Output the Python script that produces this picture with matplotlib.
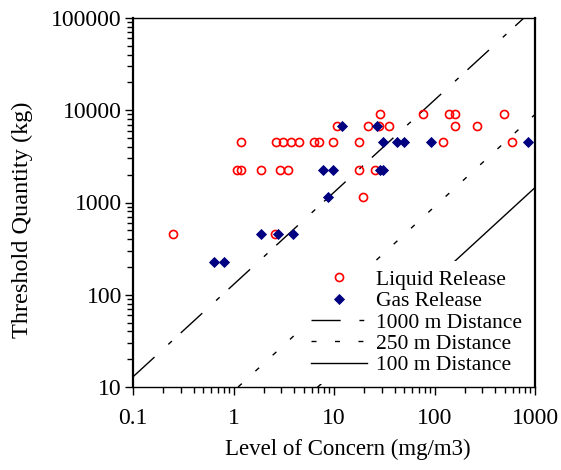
import numpy as np
import matplotlib
matplotlib.use("Agg")
import matplotlib.pyplot as plt
from matplotlib.lines import Line2D
from matplotlib.ticker import LogLocator, FuncFormatter, NullFormatter

plt.rcParams['font.family'] = ['Liberation Serif', 'DejaVu Serif']
plt.rcParams['lines.scale_dashes'] = False

# liquid release: level of concern (mg/m3) vs threshold quantity (kg)
liquid_loc = [0.25, 2.6,
              1.08, 1.19, 1.88, 2.90, 3.46, 17.9, 25.6,
              1.19, 2.63, 3.13, 3.73, 4.49, 6.32, 7.04, 9.84, 17.9, 121, 594,
              19.6,
              10.6, 21.6, 28.0, 35.5, 160, 263,
              28.7, 76.3, 140, 160, 492]
liquid_tq = [454, 454,
             2268, 2268, 2268, 2268, 2268, 2268, 2268,
             4536, 4536, 4536, 4536, 4536, 4536, 4536, 4536, 4536, 4536, 4536,
             1134,
             6804, 6804, 6804, 6804, 6804, 6804,
             9072, 9072, 9072, 9072, 9072]

# gas release
gas_loc = [0.644, 0.81,
           1.88, 2.75, 3.88,
           8.78,
           7.83, 9.84, 28.7, 30.5,
           30.5, 42.1, 50.1, 92.3, 846,
           11.9, 26.6]
gas_tq = [227, 227,
          454, 454, 454,
          1134,
          2268, 2268, 2268, 2268,
          4536, 4536, 4536, 4536, 4536,
          6804, 6804]

# distance lines: threshold = ratio * level of concern
dist_labels = ["1000 m Distance", "250 m Distance", "100 m Distance"]
dist_ratio = [129, 9.0, 1.45]

x_ticks = [0.1, 1, 10, 100, 1000]
y_ticks = [10, 100, 1000, 10000, 100000]

fig = plt.figure(figsize=(5.61, 4.70), dpi=100)
ax = fig.add_axes([133 / 561, 1 - 387 / 470, 402 / 561, 369 / 470])
ax.set_xscale('log')
ax.set_yscale('log')
ax.set_xlim(x_ticks[0], x_ticks[-1])
ax.set_ylim(y_ticks[0], y_ticks[-1])

styles = [dict(color='black', lw=1.0, dashes=(21, 13.5, 3.5, 8.7)),
          dict(color='black', lw=1.0, dashes=(3.6, 13.3)),
          dict(color='black', lw=1.0, linestyle='-')]

for ratio, st in zip(dist_ratio, styles):
    x0 = max(x_ticks[0], y_ticks[0] / ratio)
    xs = np.array([x0, x_ticks[-1]])
    ax.plot(xs, ratio * xs, zorder=1, **st)

ax.plot(liquid_loc, liquid_tq, 'o', ls='none', ms=5.8, mfc='none', mec='#ff0000', mew=1.2, zorder=3)
ax.plot(gas_loc, gas_tq, 'D', ls='none', ms=5.6, mfc='#000080', mec='#000080', mew=0.6, zorder=4)

fmt = FuncFormatter(lambda v, p: '%g' % v)
ax.xaxis.set_major_locator(LogLocator(base=10, numticks=10))
ax.yaxis.set_major_locator(LogLocator(base=10, numticks=10))
ax.xaxis.set_major_formatter(fmt)
ax.yaxis.set_major_formatter(fmt)
ax.xaxis.set_minor_formatter(NullFormatter())
ax.yaxis.set_minor_formatter(NullFormatter())
ax.tick_params(which='both', direction='out', top=False, right=False, labelsize=17, color='black', width=1.0)
ax.tick_params(which='major', length=6)
ax.tick_params(which='minor', length=4.5)
ax.tick_params(axis='x', pad=9)
ax.tick_params(axis='y', pad=2)

for side in ['left', 'right']:
    ax.spines[side].set_linewidth(1.6)
for side in ['top', 'bottom']:
    ax.spines[side].set_linewidth(1.0)

fig.text(348 / 561, 1 - 449 / 470, "Level of Concern (mg/m3)", ha='center', va='center', fontsize=16.5)
fig.text(22 / 561, 1 - 220 / 470, "Threshold Quantity (kg)", ha='center', va='center', rotation=90, fontsize=17.5)

handles = [Line2D([], [], marker='o', ls='none', ms=5.8, mfc='none', mec='#ff0000', mew=1.2),
           Line2D([], [], marker='D', ls='none', ms=5.6, mfc='#000080', mec='#000080', mew=0.6)]
for st in styles:
    handles.append(Line2D([], [], **st))
labels = ["Liquid Release", "Gas Release"] + dist_labels

leg = ax.legend(handles, labels, loc='lower left', bbox_to_anchor=((302 - 133) / 402, (387 - 384) / 369),
                borderaxespad=0, fontsize=15.5, frameon=True, facecolor='white', edgecolor='none',
                framealpha=1, fancybox=False, numpoints=1, handlelength=2.6, handletextpad=0.45,
                labelspacing=0.06, borderpad=0.4)
leg.set_zorder(5)

fig.savefig("out.png", dpi=100)
